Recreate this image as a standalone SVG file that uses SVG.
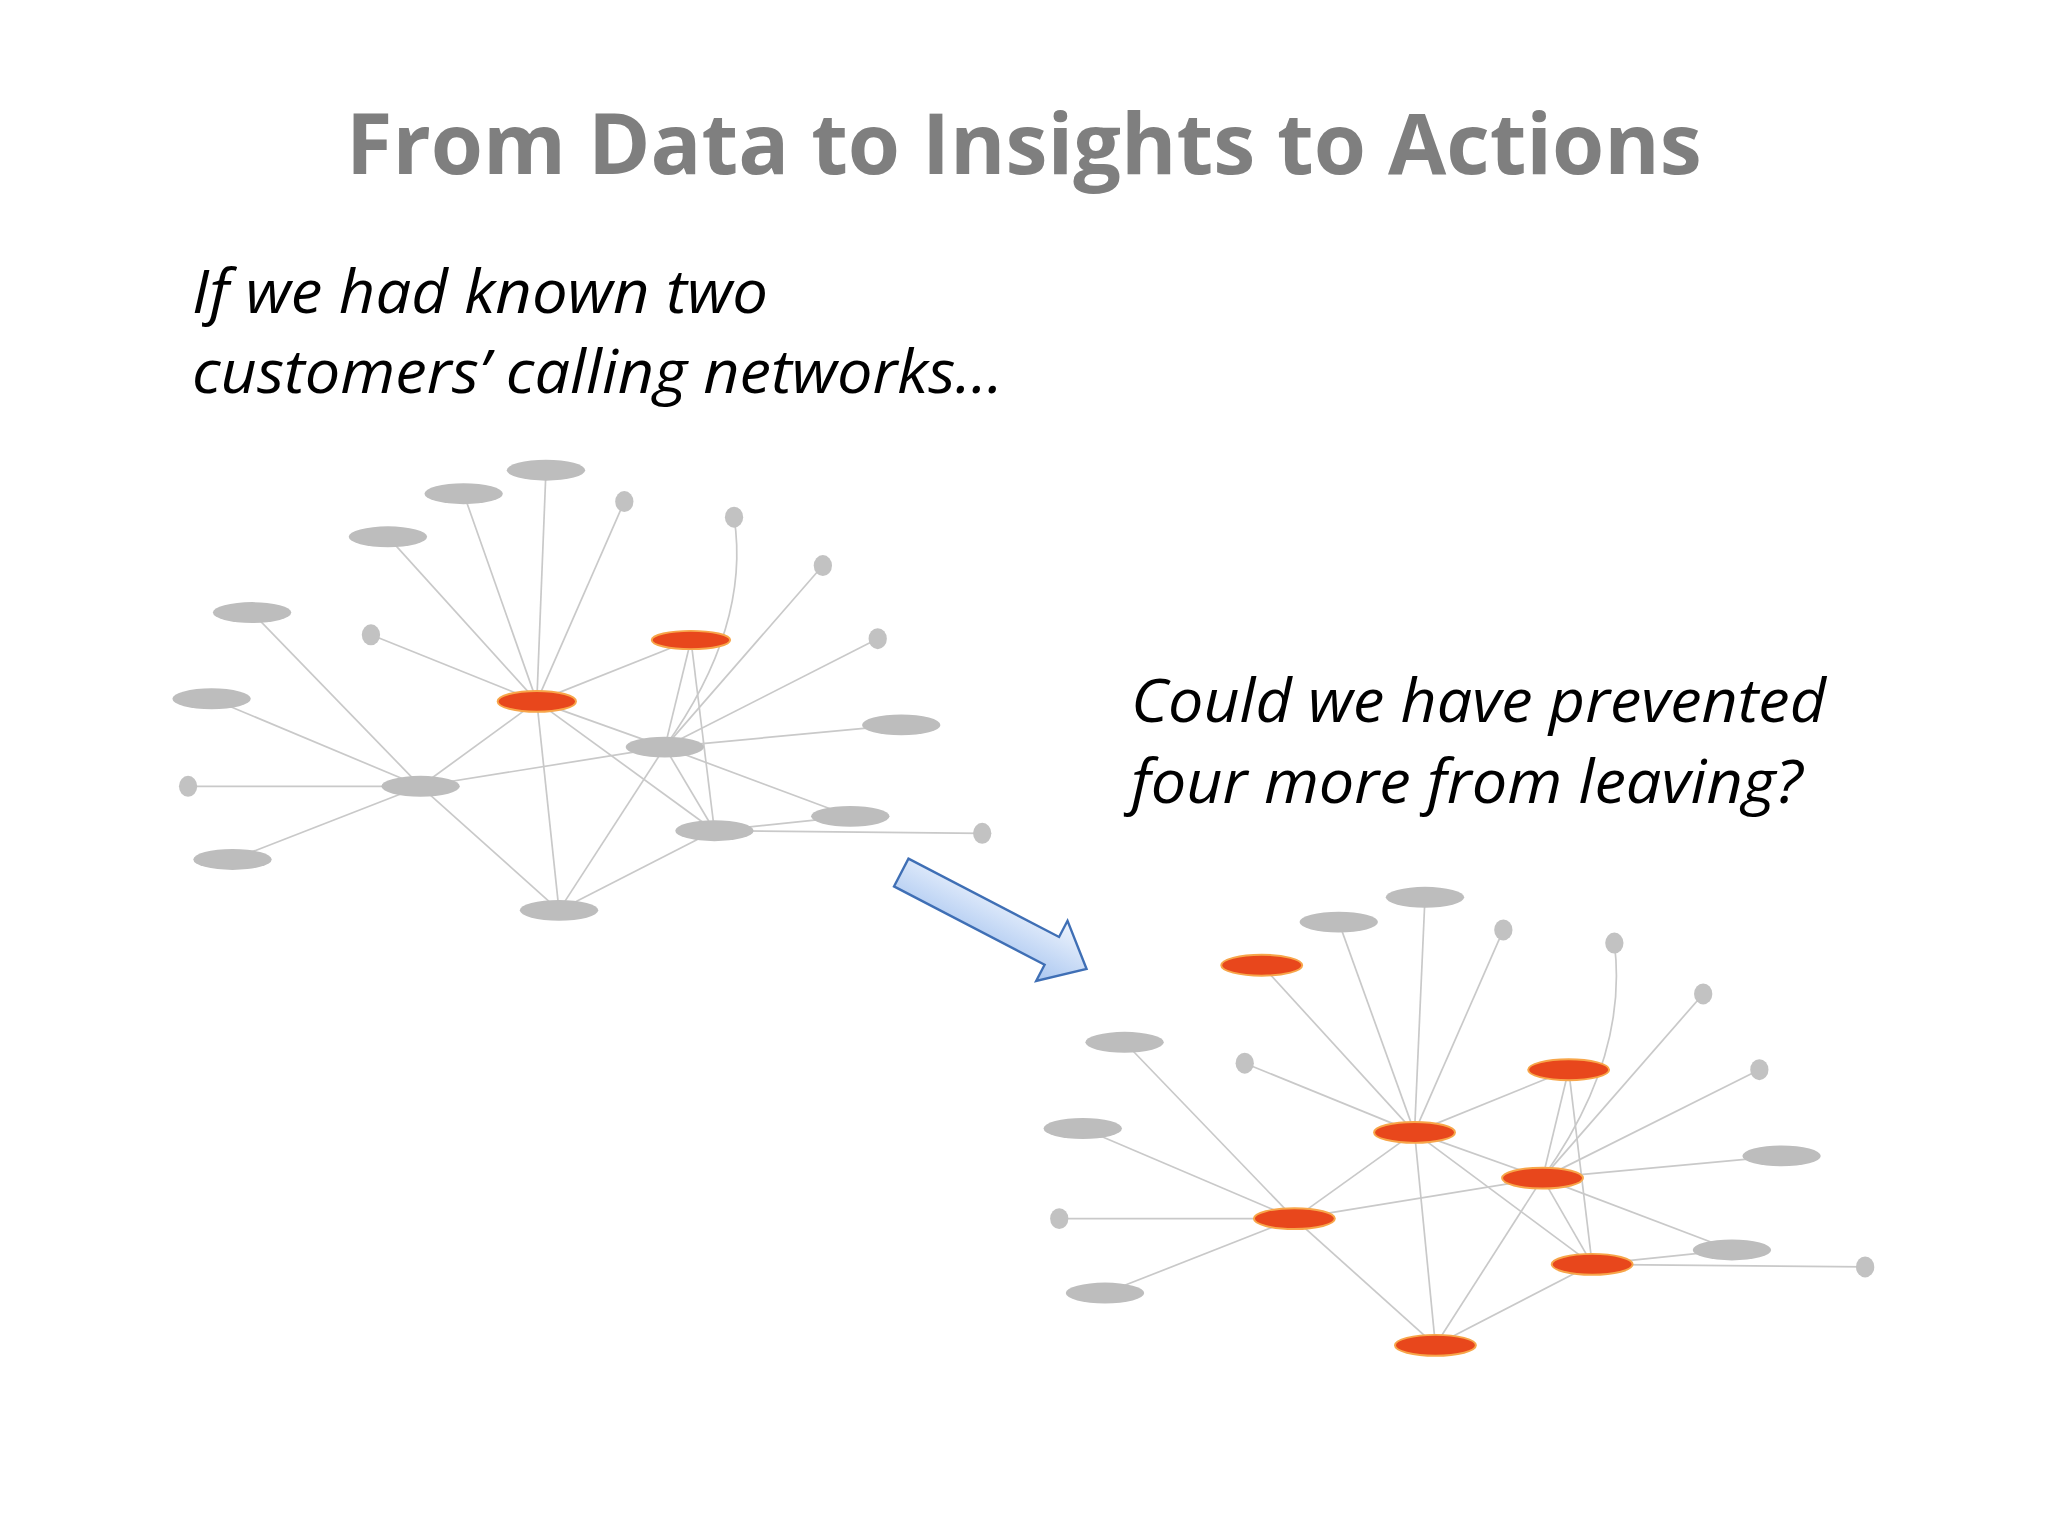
<svg xmlns="http://www.w3.org/2000/svg" width="2048" height="1536" viewBox="0 0 2048 1536">
<defs>
<style>
.e{stroke:#c9c9c9;stroke-width:1.3;fill:none}
.g{fill:#bdbdbd}
.o{fill:#e8471c;stroke:#f7a64a;stroke-width:1.5}
.d{fill:#c2c2c2}
.t{font-family:"Open Sans","Liberation Sans",sans-serif;font-style:italic;font-size:46px;fill:#000}
</style>
<linearGradient id="ag" x1="0" y1="0" x2="0" y2="1">
<stop offset="0" stop-color="#eef4fd"/><stop offset="1" stop-color="#a9c6f0"/>
</linearGradient>
</defs>
<rect width="2048" height="1536" fill="#fff"/>
<g transform="scale(1.306122)">
<text x="784" y="133" text-anchor="middle" font-family="'Open Sans','Liberation Sans',sans-serif" font-weight="bold" font-size="64" fill="#7f7f7f" textLength="1038" lengthAdjust="spacingAndGlyphs">From Data to Insights to Actions</text>
<text class="t" x="147" y="240" textLength="441" lengthAdjust="spacingAndGlyphs">If we had known two</text>
<text class="t" x="147" y="301" textLength="621" lengthAdjust="spacingAndGlyphs">customers’ calling networks…</text>
<text class="t" x="866" y="553" textLength="532" lengthAdjust="spacingAndGlyphs">Could we have prevented</text>
<text class="t" x="866" y="615" textLength="514" lengthAdjust="spacingAndGlyphs">four more from leaving?</text>

<g id="connectors">
<g id="left-edges">
<line class="e" x1="411" y1="537" x2="418" y2="360"/>
<line class="e" x1="411" y1="537" x2="355" y2="378"/>
<line class="e" x1="411" y1="537" x2="297" y2="411"/>
<line class="e" x1="411" y1="537" x2="478" y2="384"/>
<line class="e" x1="411" y1="537" x2="284" y2="486"/>
<line class="e" x1="411" y1="537" x2="529" y2="490"/>
<line class="e" x1="411" y1="537" x2="509" y2="572"/>
<line class="e" x1="411" y1="537" x2="322" y2="602"/>
<line class="e" x1="411" y1="537" x2="428" y2="697"/>
<line class="e" x1="411" y1="537" x2="547" y2="636"/>
<line class="e" x1="529" y1="490" x2="509" y2="572"/>
<line class="e" x1="529" y1="490" x2="547" y2="636"/>
<path class="e" d="M509 572 Q575 480 562 396"/>
<line class="e" x1="509" y1="572" x2="630" y2="433"/>
<line class="e" x1="509" y1="572" x2="672" y2="489"/>
<line class="e" x1="509" y1="572" x2="690" y2="555"/>
<line class="e" x1="509" y1="572" x2="322" y2="602"/>
<line class="e" x1="509" y1="572" x2="428" y2="697"/>
<line class="e" x1="509" y1="572" x2="547" y2="636"/>
<line class="e" x1="509" y1="572" x2="651" y2="625"/>
<line class="e" x1="322" y1="602" x2="193" y2="469"/>
<line class="e" x1="322" y1="602" x2="162" y2="535"/>
<line class="e" x1="322" y1="602" x2="144" y2="602"/>
<line class="e" x1="322" y1="602" x2="178" y2="658"/>
<line class="e" x1="322" y1="602" x2="428" y2="697"/>
<line class="e" x1="547" y1="636" x2="428" y2="697"/>
<line class="e" x1="547" y1="636" x2="651" y2="625"/>
<line class="e" x1="547" y1="636" x2="752" y2="638"/>
</g>
<g id="right-edges" transform="translate(672 330)">
<line class="e" x1="411" y1="537" x2="419" y2="357"/>
<line class="e" x1="411" y1="537" x2="353" y2="376"/>
<line class="e" x1="411" y1="537" x2="294" y2="409"/>
<line class="e" x1="411" y1="537" x2="479" y2="382"/>
<line class="e" x1="411" y1="537" x2="281" y2="484"/>
<line class="e" x1="411" y1="537" x2="529" y2="489"/>
<line class="e" x1="411" y1="537" x2="509" y2="572"/>
<line class="e" x1="411" y1="537" x2="319" y2="603"/>
<line class="e" x1="411" y1="537" x2="427" y2="700"/>
<line class="e" x1="411" y1="537" x2="547" y2="638"/>
<line class="e" x1="529" y1="489" x2="509" y2="572"/>
<line class="e" x1="529" y1="489" x2="547" y2="638"/>
<path class="e" d="M509 572 Q575 480 564 392"/>
<line class="e" x1="509" y1="572" x2="632" y2="431"/>
<line class="e" x1="509" y1="572" x2="675" y2="489"/>
<line class="e" x1="509" y1="572" x2="692" y2="555"/>
<line class="e" x1="509" y1="572" x2="319" y2="603"/>
<line class="e" x1="509" y1="572" x2="427" y2="700"/>
<line class="e" x1="509" y1="572" x2="547" y2="638"/>
<line class="e" x1="509" y1="572" x2="654" y2="627"/>
<line class="e" x1="319" y1="603" x2="189" y2="468"/>
<line class="e" x1="319" y1="603" x2="157" y2="534"/>
<line class="e" x1="319" y1="603" x2="139" y2="603"/>
<line class="e" x1="319" y1="603" x2="174" y2="660"/>
<line class="e" x1="319" y1="603" x2="427" y2="700"/>
<line class="e" x1="547" y1="638" x2="427" y2="700"/>
<line class="e" x1="547" y1="638" x2="654" y2="627"/>
<line class="e" x1="547" y1="638" x2="756" y2="640"/>
</g>
</g>

<g id="left-graph">
<g id="l-a"><ellipse class="g" cx="418" cy="360" rx="30" ry="8"/></g>
<g id="l-b"><ellipse class="g" cx="355" cy="378" rx="30" ry="8"/></g>
<g id="l-c"><ellipse class="g" cx="297" cy="411" rx="30" ry="8"/></g>
<g id="l-d"><ellipse class="g" cx="193" cy="469" rx="30" ry="8"/></g>
<g id="l-e"><ellipse class="g" cx="162" cy="535" rx="30" ry="8"/></g>
<g id="l-f"><ellipse class="d" cx="478" cy="384" rx="7" ry="8"/></g>
<g id="l-g"><ellipse class="d" cx="562" cy="396" rx="7" ry="8"/></g>
<g id="l-h"><ellipse class="d" cx="630" cy="433" rx="7" ry="8"/></g>
<g id="l-i"><ellipse class="d" cx="284" cy="486" rx="7" ry="8"/></g>
<g id="l-j"><ellipse class="d" cx="672" cy="489" rx="7" ry="8"/></g>
<g id="l-r1"><ellipse class="o" cx="411" cy="537" rx="30" ry="8"/></g>
<g id="l-r2"><ellipse class="o" cx="529" cy="490" rx="30" ry="7"/></g>
<g id="l-k"><ellipse class="g" cx="509" cy="572" rx="30" ry="8"/></g>
<g id="l-l"><ellipse class="g" cx="690" cy="555" rx="30" ry="8"/></g>
<g id="l-m"><ellipse class="g" cx="322" cy="602" rx="30" ry="8"/></g>
<g id="l-n"><ellipse class="d" cx="144" cy="602" rx="7" ry="8"/></g>
<g id="l-o"><ellipse class="g" cx="547" cy="636" rx="30" ry="8"/></g>
<g id="l-p"><ellipse class="g" cx="651" cy="625" rx="30" ry="8"/></g>
<g id="l-q"><ellipse class="d" cx="752" cy="638" rx="7" ry="8"/></g>
<g id="l-s"><ellipse class="g" cx="178" cy="658" rx="30" ry="8"/></g>
<g id="l-t"><ellipse class="g" cx="428" cy="697" rx="30" ry="8"/></g>
</g>

<g id="right-graph" transform="translate(672 330)">
<g id="r-a"><ellipse class="g" cx="419" cy="357" rx="30" ry="8"/></g>
<g id="r-b"><ellipse class="g" cx="353" cy="376" rx="30" ry="8"/></g>
<g id="r-c"><ellipse class="o" cx="294" cy="409" rx="31" ry="8"/></g>
<g id="r-d"><ellipse class="g" cx="189" cy="468" rx="30" ry="8"/></g>
<g id="r-e"><ellipse class="g" cx="157" cy="534" rx="30" ry="8"/></g>
<g id="r-f"><ellipse class="d" cx="479" cy="382" rx="7" ry="8"/></g>
<g id="r-g"><ellipse class="d" cx="564" cy="392" rx="7" ry="8"/></g>
<g id="r-h"><ellipse class="d" cx="632" cy="431" rx="7" ry="8"/></g>
<g id="r-i"><ellipse class="d" cx="281" cy="484" rx="7" ry="8"/></g>
<g id="r-j"><ellipse class="d" cx="675" cy="489" rx="7" ry="8"/></g>
<g id="r-r1"><ellipse class="o" cx="411" cy="537" rx="31" ry="8"/></g>
<g id="r-r2"><ellipse class="o" cx="529" cy="489" rx="31" ry="8"/></g>
<g id="r-k"><ellipse class="o" cx="509" cy="572" rx="31" ry="8"/></g>
<g id="r-l"><ellipse class="g" cx="692" cy="555" rx="30" ry="8"/></g>
<g id="r-m"><ellipse class="o" cx="319" cy="603" rx="31" ry="8"/></g>
<g id="r-n"><ellipse class="d" cx="139" cy="603" rx="7" ry="8"/></g>
<g id="r-o"><ellipse class="o" cx="547" cy="638" rx="31" ry="8"/></g>
<g id="r-p"><ellipse class="g" cx="654" cy="627" rx="30" ry="8"/></g>
<g id="r-q"><ellipse class="d" cx="756" cy="640" rx="7" ry="8"/></g>
<g id="r-s"><ellipse class="g" cx="174" cy="660" rx="30" ry="8"/></g>
<g id="r-t"><ellipse class="o" cx="427" cy="700" rx="31" ry="8"/></g>
</g>

<g id="arrow" transform="translate(690 668) rotate(27.5)">
<polygon points="0,-12 130,-12 130,-26 160,0 130,26 130,12 0,12" fill="url(#ag)" stroke="#3f6fb5" stroke-width="1.8" stroke-linejoin="miter"/>
</g>
</g>
</svg>
